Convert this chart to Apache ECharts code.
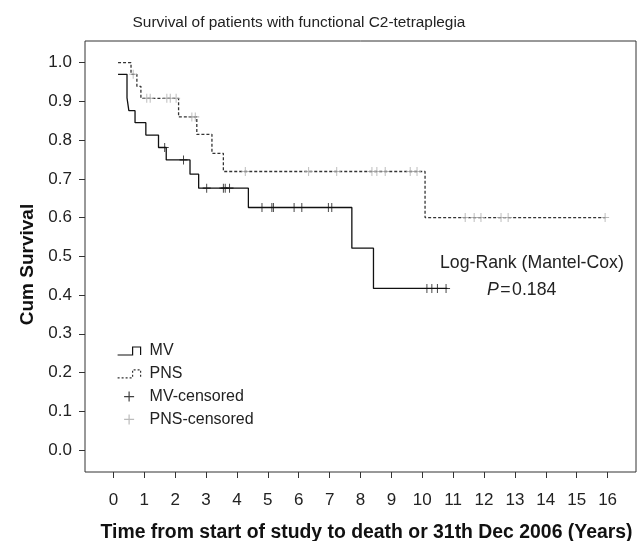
<!DOCTYPE html>
<html>
<head>
<meta charset="utf-8">
<script src="https://cdn.jsdelivr.net/npm/echarts@6/dist/echarts.min.js"></script>
<style>
  html, body { margin: 0; padding: 0; background: #fff; }
  #chart { width: 637px; height: 541px; }
</style>
</head>
<body>
<div id="chart"></div>
<script>
// MV: event times (years) and survival after each step; last point = end of follow-up
const mvTimes = [0.15, 0.44, 0.50, 0.70, 1.05, 1.46, 1.71, 2.48, 2.76, 4.37, 7.72, 8.42, 10.81]
const mvSurv = [0.970, 0.909, 0.876, 0.845, 0.813, 0.781, 0.749, 0.712, 0.676, 0.626, 0.521, 0.417, 0.417]
const mvCensored = [1.66, 2.27, 3.02, 3.56, 3.62, 3.76, 4.81, 5.13, 5.18, 5.85, 6.10, 6.96, 7.07,
  10.15, 10.31, 10.49, 10.77]

// PNS
const pnsTimes = [0.15, 0.57, 0.76, 0.89, 2.11, 2.70, 3.19, 3.56, 10.09, 15.93]
const pnsSurv = [1.000, 0.970, 0.939, 0.908, 0.860, 0.815, 0.766, 0.719, 0.600, 0.600]
const pnsCensored = [0.64, 1.08, 1.19, 1.73, 1.84, 2.03, 2.54, 2.65, 4.27, 6.32, 7.23, 8.37, 8.53,
  8.80, 9.61, 9.83, 11.39, 11.68, 11.90, 12.55, 12.78, 15.92]

const xTicks = [0, 1, 2, 3, 4, 5, 6, 7, 8, 9, 10, 11, 12, 13, 14, 15, 16]
const yTicks = [0, 0.1, 0.2, 0.3, 0.4, 0.5, 0.6, 0.7, 0.8, 0.9, 1.0]

const FONT = "'Liberation Sans', Arial, sans-serif"
const PLUS = 'path://M4.4,0h1.2v4.4h4.4v1.2h-4.4v4.4h-1.2v-4.4h-4.4v-1.2h4.4z'
const STEP = 'path://M0,8L15,8L15,0L23,0L23,8'

// survival value of a step curve at time t
const survAt = (times, surv, t) => {
  let s = surv[0]
  for (let i = 0; i < times.length; i++) {
    if (times[i] <= t) s = surv[i]
  }
  return s
}

const zip = (a, b) => a.map((v, i) => [v, b[i]])

const chart = echarts.init(document.getElementById('chart'))

chart.setOption({
  animation: false,
  textStyle: { fontFamily: FONT },
  title: {
    text: 'Survival of patients with functional C2-tetraplegia',
    left: 294,
    textAlign: 'center',
    top: 10,
    textStyle: { fontFamily: FONT, fontSize: 15.4, fontWeight: 'normal', color: '#222' }
  },
  grid: {
    left: 85,
    right: 1,
    top: 41,
    bottom: 69,
    containLabel: false,
    outerBoundsMode: 'none',
    show: true,
    borderColor: '#333',
    borderWidth: 1
  },
  legend: {
    orient: 'vertical',
    left: 117,
    top: 343,
    padding: 0,
    itemWidth: 23,
    itemHeight: 10,
    itemGap: 6.8,
    textStyle: { fontFamily: FONT, fontSize: 16, color: '#222', lineHeight: 16, padding: [0, 0, 0, 4] },
    data: [
      { name: 'MV', icon: STEP, itemStyle: { color: 'rgba(0,0,0,0)', borderColor: '#111', borderWidth: 1.2 } },
      { name: 'PNS', icon: STEP, itemStyle: { color: 'rgba(0,0,0,0)', borderColor: '#333', borderWidth: 1.2, borderType: [2, 2] } },
      { name: 'MV-censored', icon: PLUS },
      { name: 'PNS-censored', icon: PLUS }
    ]
  },
  xAxis: {
    type: 'value',
    min: -0.92,
    max: 16.92,
    name: 'Time from start of study to death or 31th Dec 2006 (Years)',
    nameLocation: 'middle',
    nameGap: 51,
    nameTextStyle: { fontFamily: FONT, fontSize: 19.4, fontWeight: 'bold', color: '#111', padding: [0, 0, 0, 12] },
    axisLine: { show: false, onZero: false },
    axisTick: { show: true, length: 6, lineStyle: { color: '#333' }, customValues: xTicks },
    axisLabel: { fontSize: 17, color: '#222', margin: 20, customValues: xTicks },
    splitLine: { show: false }
  },
  yAxis: {
    type: 'value',
    min: -0.057,
    max: 1.056,
    name: 'Cum Survival',
    nameLocation: 'middle',
    nameGap: 48,
    nameTextStyle: { fontFamily: FONT, fontSize: 19, fontWeight: 'bold', color: '#111', padding: [0, 16, 0, 0] },
    axisLine: { show: false, onZero: false },
    axisTick: { show: true, length: 6, lineStyle: { color: '#333' }, customValues: yTicks },
    axisLabel: {
      fontSize: 17,
      color: '#222',
      margin: 13,
      customValues: yTicks,
      formatter: v => v.toFixed(1)
    },
    splitLine: { show: false }
  },
  graphic: [
    {
      type: 'text',
      left: 440,
      top: 254,
      style: { text: 'Log-Rank (Mantel-Cox)', fontFamily: FONT, fontSize: 17.7, fill: '#222' }
    },
    {
      type: 'text',
      left: 487,
      top: 281,
      style: {
        text: '{i|P}\u200a=\u200a0.184',
        fontFamily: FONT,
        fontSize: 17.7,
        fill: '#222',
        rich: { i: { fontStyle: 'italic', fontFamily: FONT, fontSize: 17.7, fill: '#222' } }
      }
    }
  ],
  series: [
    {
      name: 'MV',
      type: 'line',
      step: 'end',
      symbol: 'none',
      data: zip(mvTimes, mvSurv),
      itemStyle: { color: '#111' },
      lineStyle: { color: '#111', width: 1.3 },
      z: 3
    },
    {
      name: 'PNS',
      type: 'line',
      step: 'end',
      symbol: 'none',
      data: zip(pnsTimes, pnsSurv),
      itemStyle: { color: '#333' },
      lineStyle: { color: '#333', width: 1.3, type: [3, 2] },
      z: 2
    },
    {
      name: 'MV-censored',
      type: 'scatter',
      symbol: PLUS,
      symbolSize: [8, 9],
      data: mvCensored.map(t => [t, survAt(mvTimes, mvSurv, t)]),
      itemStyle: { color: '#111' },
      z: 4
    },
    {
      name: 'PNS-censored',
      type: 'scatter',
      symbol: PLUS,
      symbolSize: [8, 9],
      data: pnsCensored.map(t => [t, survAt(pnsTimes, pnsSurv, t)]),
      itemStyle: { color: '#aaa' },
      z: 4
    }
  ]
})

window.addEventListener('resize', () => chart.resize())
</script>
</body>
</html>
